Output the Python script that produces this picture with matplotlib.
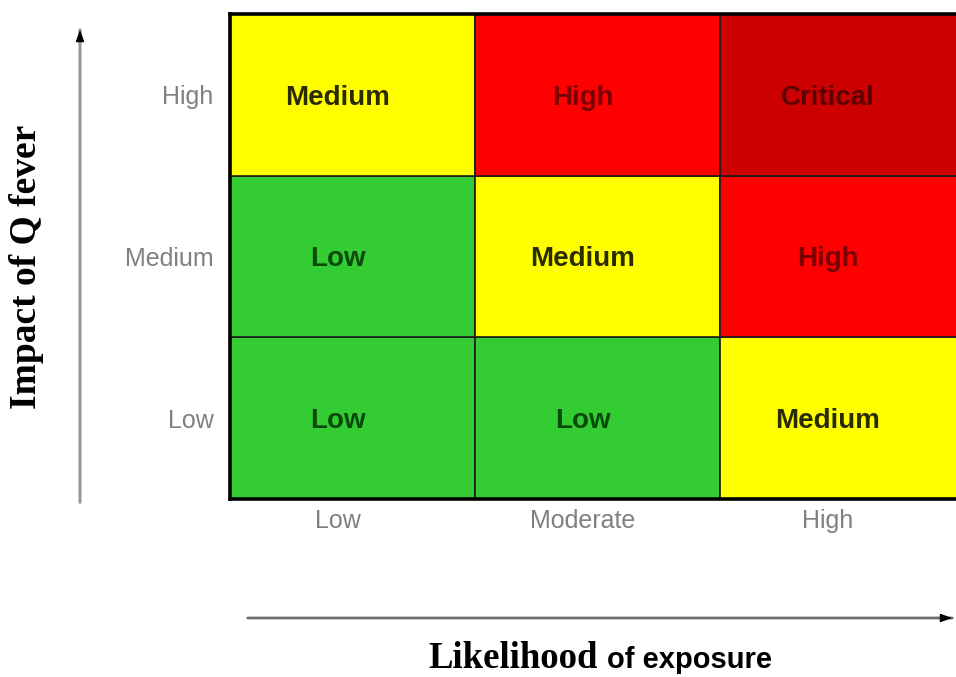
import matplotlib
matplotlib.use('Agg')
from matplotlib import pyplot as plt

# Risk matrix for Q fever: rows = impact (low -> high), columns = likelihood
likelihood = ['Low', 'Moderate', 'High']
impact = ['Low', 'Medium', 'High']
risk = [
    ['Low', 'Low', 'Medium'],        # impact Low
    ['Low', 'Medium', 'High'],       # impact Medium
    ['Medium', 'High', 'Critical'],  # impact High
]

riskColors = {'Low': '#33CC33', 'Medium': '#FFFF00', 'High': '#FF0000', 'Critical': '#CC0000'}
textColors = {'Low': '#0a4a0a', 'Medium': '#2b2b00', 'High': '#7a0000', 'Critical': '#5c0000'}

W, H = 956, 677
fig = plt.figure(figsize=(W / 100, H / 100), dpi=100)
ax = fig.add_axes([230 / W, 1 - 499 / H, 1 - 230 / W, (499 - 14) / H])

cols = list(range(len(likelihood)))
for r, row in enumerate(risk):
    ax.bar(cols, [1] * len(cols), width=1, bottom=r, align='edge',
           color=[riskColors[v] for v in row], edgecolor='#1a1a1a', linewidth=1.2)
    for c, v in enumerate(row):
        ax.text(c + 0.44, r + 0.5, v, ha='center', va='center_baseline', fontsize=20,
                fontweight='bold', family='Liberation Sans', color=textColors[v])

ax.set_xlim(0, 726 / 245)
ax.set_ylim(0, 3)

ax.set_xticks([c + 0.44 for c in cols])
ax.set_xticklabels(likelihood)
ax.set_yticks([r + 0.5 for r in range(len(impact))])
ax.set_yticklabels(impact)
for lab in ax.get_xticklabels() + ax.get_yticklabels():
    lab.set_family('Liberation Sans')
    lab.set_fontsize(18)
    lab.set_color('#808080')
for lab in ax.get_yticklabels():
    lab.set_verticalalignment('center_baseline')
ax.tick_params(axis='both', length=0)
ax.tick_params(axis='x', pad=7)
ax.tick_params(axis='y', pad=12)

for side in ['left', 'top', 'bottom']:
    ax.spines[side].set_linewidth(2.6)
    ax.spines[side].set_color('black')
ax.spines['right'].set_visible(False)

# Axis arrows: gray shaft, small black head
def drawArrow(start, end, shaftColor, lw):
    px = dict(xycoords='figure pixels', textcoords='figure pixels')
    ax.annotate('', xy=end, xytext=start, arrowprops=dict(arrowstyle='-', color=shaftColor, lw=lw), **px)
    dx, dy = end[0] - start[0], end[1] - start[1]
    n = (dx ** 2 + dy ** 2) ** 0.5
    back = (end[0] - dx / n * 12, end[1] - dy / n * 12)
    ax.annotate('', xy=end, xytext=back,
                arrowprops=dict(arrowstyle='-|>,head_length=0.7,head_width=0.25', color='black', lw=1), **px)

drawArrow((80, H - 505), (80, H - 27), '#999999', 2.2)
drawArrow((245, H - 618), (955, H - 618), '#6e6e6e', 2)

# Axis titles
fig.text(27 / W, 1 - 267 / H, 'Impact of Q fever', rotation=90, ha='center', va='center',
         fontsize=27, fontweight='bold', family='Liberation Serif')
fig.text(428 / W, 1 - 668 / H, 'Likelihood', ha='left', va='baseline',
         fontsize=26.5, fontweight='bold', family='Liberation Serif')
fig.text(607 / W, 1 - 668 / H, 'of exposure', ha='left', va='baseline',
         fontsize=21, fontweight='bold', family='Liberation Sans')

fig.savefig('out.png', dpi=100)
